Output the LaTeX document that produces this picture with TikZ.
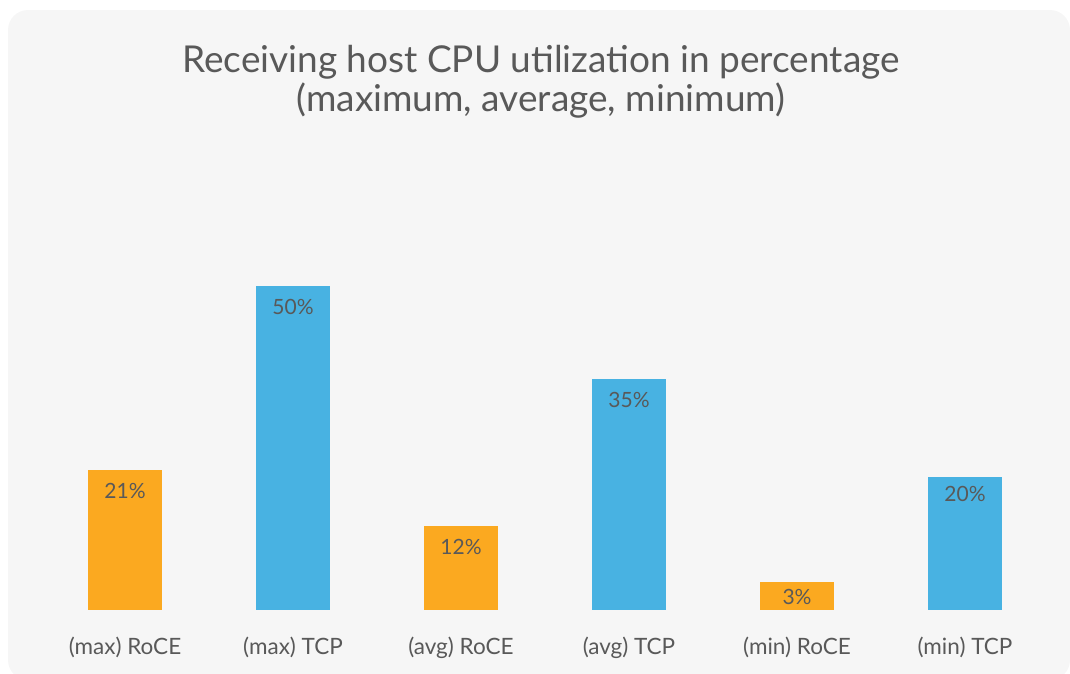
\documentclass[tikz,border=0pt]{standalone}
\usepackage{fontspec}
\setmainfont{Lato}
\definecolor{bgc}{HTML}{F6F6F6}
\definecolor{roce}{HTML}{FBA920}
\definecolor{tcp}{HTML}{48B2E2}
\definecolor{txt}{HTML}{595959}
\tikzset{
  bar/.style={fill=#1, draw=none},
  cat/.style={text=txt, font=\fontsize{22.5}{26}\selectfont, anchor=base},
  val/.style={text=txt, font=\fontsize{21}{25}\selectfont, anchor=base},
  ttl/.style={text=txt, font=\fontsize{37}{42}\selectfont, anchor=base}
}
\begin{document}
\begin{tikzpicture}[x=1pt,y=-1pt]
\useasboundingbox (0,0) rectangle (1070,673);
\fill[bgc, rounded corners=20pt] (8,10) rectangle (1070,680);
\node[ttl] (t1) at (541,72) {Receiving host CPU utilization in percentage};
\node[ttl] (t2) at (541,111) {(maximum, average, minimum)};
% bars: center x, top y, colour, value, label, value baseline
\foreach \i/\cx/\top/\col/\v/\lab/\vb in {
  1/125/470/roce/21\%/(max) RoCE/498,
  2/293/286/tcp/50\%/(max) TCP/314,
  3/461/526/roce/12\%/(avg) RoCE/554,
  4/629/379/tcp/35\%/(avg) TCP/407,
  5/797/582/roce/3\%/(min) RoCE/604,
  6/965/477/tcp/20\%/(min) TCP/501}{
  \fill[bar=\col] (\cx-37,\top) rectangle (\cx+37,610);
  \node[val] (v\i) at (\cx,\vb) {\v};
  \node[cat] (c\i) at (\cx,654) {\lab};
}
\end{tikzpicture}
\end{document}
